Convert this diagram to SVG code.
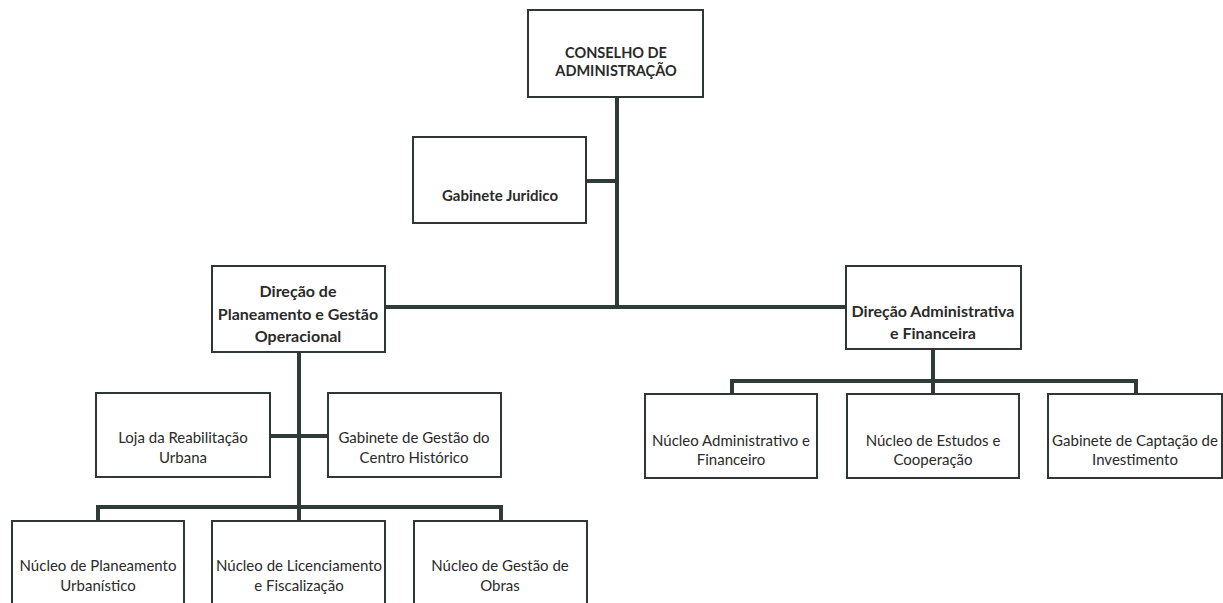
<svg xmlns="http://www.w3.org/2000/svg" width="1223" height="603" viewBox="0 0 1223 603">
<style>
.box{fill:#fff;stroke:#2f3633;stroke-width:2}
.ln{stroke:#2e3b36;stroke-width:4;fill:none;stroke-linecap:square}
text{font-family:Lato,"Open Sans","Liberation Sans",sans-serif;font-size:15px;fill:#2a2a2a;text-anchor:middle;dominant-baseline:central}
.b{font-weight:bold;font-size:16px}
.c{font-weight:bold;font-size:14.5px}
</style>
<rect width="1223" height="603" fill="#fff"/>
<g id="connectors">
<path class="ln" d="M617 97V307"/>
<path class="ln" d="M586 181H617"/>
<path class="ln" d="M385 307H846"/>
<path class="ln" d="M299 352V521"/>
<path class="ln" d="M270 436H328"/>
<path class="ln" d="M98 521V507H501V521"/>
<path class="ln" d="M933 349V394"/>
<path class="ln" d="M732 394V381H1136V394"/>
</g>
<g id="conselho"><rect class="box" x="528" y="10" width="175" height="87"/><text class="c" x="616" y="52">CONSELHO DE</text><text class="c" x="616" y="70">ADMINISTRAÇÃO</text></g>
<g id="gabinete-juridico"><rect class="box" x="413" y="137" width="173" height="86"/><text class="b" x="500" y="195" style="font-size:15px">Gabinete Juridico</text></g>
<g id="direcao-planeamento"><rect class="box" x="212" y="266" width="173" height="86"/><text class="b" x="298" y="290">Direção de</text><text class="b" x="298" y="313">Planeamento e Gestão</text><text class="b" x="298" y="335">Operacional</text></g>
<g id="direcao-administrativa"><rect class="box" x="846" y="266" width="175" height="83"/><text class="b" x="933" y="310">Direção Administrativa</text><text class="b" x="933" y="332">e Financeira</text></g>
<g id="loja"><rect class="box" x="96" y="393" width="174" height="84"/><text x="183" y="437">Loja da Reabilitação</text><text x="183" y="457">Urbana</text></g>
<g id="gabinete-centro"><rect class="box" x="328" y="393" width="173" height="84"/><text x="414" y="437">Gabinete de Gestão do</text><text x="414" y="457">Centro Histórico</text></g>
<g id="nucleo-admin"><rect class="box" x="645" y="394" width="172" height="84"/><text x="731" y="440">Núcleo Administrativo e</text><text x="731" y="459">Financeiro</text></g>
<g id="nucleo-estudos"><rect class="box" x="847" y="394" width="172" height="84"/><text x="933" y="440">Núcleo de Estudos e</text><text x="933" y="459">Cooperação</text></g>
<g id="gabinete-captacao"><rect class="box" x="1048" y="394" width="174" height="84"/><text x="1135" y="440">Gabinete de Captação de</text><text x="1135" y="459">Investimento</text></g>
<g id="nucleo-planeamento"><rect class="box" x="12" y="521" width="172" height="90"/><text x="98" y="565">Núcleo de Planeamento</text><text x="98" y="585">Urbanístico</text></g>
<g id="nucleo-licenciamento"><rect class="box" x="212" y="521" width="173" height="90"/><text x="299" y="565">Núcleo de Licenciamento</text><text x="299" y="585">e Fiscalização</text></g>
<g id="nucleo-obras"><rect class="box" x="414" y="521" width="173" height="90"/><text x="500" y="565">Núcleo de Gestão de</text><text x="500" y="585">Obras</text></g>
</svg>
